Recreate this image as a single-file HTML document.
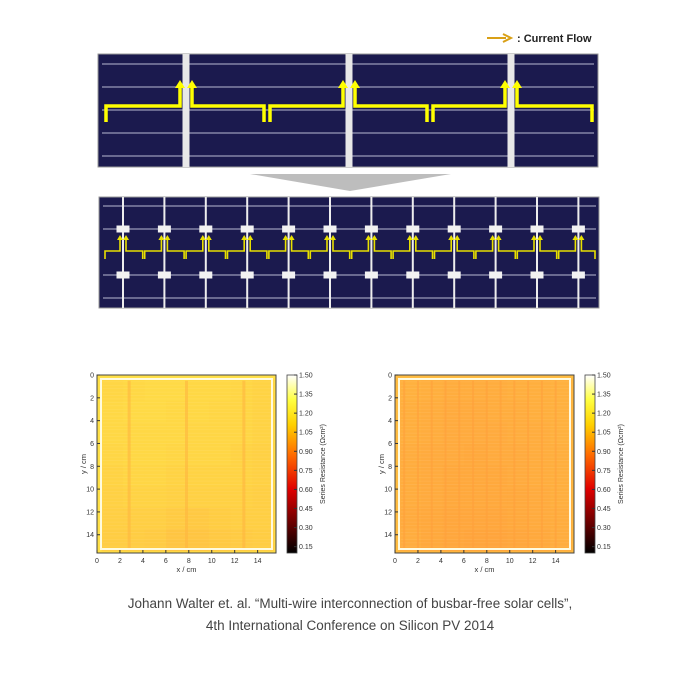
<!DOCTYPE html>
<html><head><meta charset="utf-8"><style>
body{margin:0;background:#fff;}
svg{display:block;font-family:"Liberation Sans",sans-serif;}
</style></head><body>
<svg id="root" width="700" height="680" viewBox="0 0 700 680" xmlns="http://www.w3.org/2000/svg">
<defs>
<linearGradient id="hot" x1="0" y1="1" x2="0" y2="0">
<stop offset="0" stop-color="#000"/><stop offset="0.36" stop-color="#e00000"/><stop offset="0.55" stop-color="#ff6a00"/><stop offset="0.72" stop-color="#ffd000"/><stop offset="0.86" stop-color="#ffff40"/><stop offset="1" stop-color="#fff"/>
</linearGradient>
</defs>
<g>
<line x1="487" y1="38" x2="506" y2="38" stroke="#d9a016" stroke-width="2"/>
<path d="M503,34 L511,38 L503,42" fill="none" stroke="#d9a016" stroke-width="2"/>
<text x="517" y="42" font-size="11" font-weight="bold" fill="#222">: Current Flow</text>
</g>
<g id="topdiag"></g>
<polygon points="250,174 451,174 350,191" fill="#bdbdbd"/>
<g id="middiag"></g>
<g id="maps"></g>
<text x="350" y="608" font-size="13.5" fill="#444" text-anchor="middle">Johann Walter et. al. “Multi-wire interconnection of busbar-free solar cells”,</text>
<text x="350" y="630" font-size="13.5" fill="#444" text-anchor="middle">4th International Conference on Silicon PV 2014</text>
</svg>
<script>
const xTicks=[0,2,4,6,8,10,12,14];
const yTicks=[0,2,4,6,8,10,12,14];
const cbarTicks=[1.50,1.35,1.20,1.05,0.90,0.75,0.60,0.45,0.30,0.15];
const leftValues=[
[1.15,1.16,1.17,1.17,1.16,1.16,1.15,1.14],
[1.16,1.17,1.17,1.16,1.16,1.15,1.15,1.14],
[1.16,1.16,1.16,1.16,1.15,1.15,1.15,1.14],
[1.15,1.16,1.16,1.15,1.15,1.15,1.14,1.13],
[1.14,1.15,1.15,1.14,1.14,1.14,1.14,1.13],
[1.13,1.14,1.14,1.13,1.13,1.13,1.13,1.12],
[1.12,1.12,1.12,1.10,1.09,1.11,1.12,1.12],
[1.11,1.11,1.10,1.07,1.07,1.09,1.10,1.11]];
const leftBusbars=[2.8,7.8,12.8];
const rightValues=[
[0.98,0.97,0.96,0.96,0.96,0.97,0.97,0.98],
[0.97,0.96,0.95,0.95,0.96,0.96,0.97,0.98],
[0.97,0.96,0.95,0.95,0.95,0.96,0.96,0.98],
[0.96,0.95,0.95,0.94,0.95,0.95,0.96,0.97],
[0.96,0.95,0.94,0.94,0.94,0.95,0.96,0.97],
[0.96,0.95,0.94,0.94,0.94,0.94,0.95,0.97],
[0.95,0.94,0.93,0.93,0.93,0.94,0.95,0.96],
[0.96,0.94,0.93,0.92,0.92,0.93,0.94,0.96]];
const rightFingers=[0.8,2.0,3.2,4.4,5.6,6.8,8.0,9.2,10.4,11.6,12.8,14.0];

const NS="http://www.w3.org/2000/svg";
function mk(p,t,a){const e=document.createElementNS(NS,t);for(const k in a)e.setAttribute(k,a[k]);p.appendChild(e);return e;}
// ---------- top diagram ----------
const topG=document.getElementById('topdiag');
mk(topG,'rect',{x:98,y:54,width:500,height:113,fill:'#1b1a4e',stroke:'#999','stroke-width':1});
[64,87,110,133,156].forEach(y=>mk(topG,'line',{x1:102,x2:594,y1:y,y2:y,stroke:'#9a9ab8','stroke-width':1.2}));
const bus=[186,349,511];
bus.forEach(x=>{const b=mk(topG,'rect',{x:x-3.5,y:54,width:7,height:113,fill:'#e8e8e8'});

});
const Y='#ffff00';
function tpath(d){mk(topG,'path',{d:d,fill:'none',stroke:Y,'stroke-width':3.5});}
const edges=[105,186,267,349,430,511,593];
for(let i=0;i<6;i++){
 const a=edges[i],b=edges[i+1];
 if(i%2==0){
  const x0=i==0?106:a+3, x1=b-6;
  tpath(`M${x0},122 L${x0},106 L${x1},106 L${x1},85`);
  mk(topG,'path',{d:`M${x1-5},88 L${x1},80 L${x1+5},88z`,fill:Y});
 } else {
  const x0=a+6, x1=i==5?592:b-3;
  tpath(`M${x0},85 L${x0},106 L${x1},106 L${x1},122`);
  mk(topG,'path',{d:`M${x0-5},88 L${x0},80 L${x0+5},88z`,fill:Y});
 }
}
// ---------- middle diagram ----------
const midG=document.getElementById('middiag');
mk(midG,'rect',{x:99,y:197,width:500,height:111,fill:'#1b1a4e',stroke:'#999','stroke-width':1});
[206,229,275,298].forEach(y=>mk(midG,'line',{x1:103,x2:596,y1:y,y2:y,stroke:'#9a9ab8','stroke-width':1.2}));
const wires=[];for(let i=0;i<12;i++)wires.push(123+i*41.4);
wires.forEach(x=>{const w=mk(midG,'line',{x1:x,x2:x,y1:197,y2:308,stroke:'#eee','stroke-width':2});
 
 
 [229,275].forEach(y=>mk(midG,'rect',{x:x-6.5,y:y-3.5,width:13,height:7,fill:'#f2f2f2'}));});
function yp(d){mk(midG,'path',{d:d,fill:'none',stroke:'#e8e000','stroke-width':1.6});}
const segs=[104];for(let i=0;i<11;i++)segs.push(wires[i]+20.7);segs.push(596);
for(let i=0;i<12;i++){
 const w=wires[i],l=segs[i],rr=segs[i+1];
 yp(`M${l+1},259 L${l+1},251 L${w-3},251 L${w-3},238`);
 yp(`M${w+3},238 L${w+3},251 L${rr-1},251 L${rr-1},259`);
 mk(midG,'path',{d:`M${w-6},240 L${w-3},235 L${w},240z`,fill:'#e8e000'});
 mk(midG,'path',{d:`M${w},240 L${w+3},235 L${w+6},240z`,fill:'#e8e000'});
}
// ---------- heatmaps ----------
const VMIN=0.10,VMAX=1.50,DOM=15.6;
function hot(v){let t=(v-VMIN)/(VMAX-VMIN);t=Math.max(0,Math.min(1,t));
 const c=x=>Math.round(255*Math.max(0,Math.min(1,x)));
 const r=c(t/0.4), g=c(1.17*t-0.04), b=t>0.45?c(0.12+0.2*t+Math.max(0,(t-0.85)/0.15)):0;
 return `rgb(${r},${g},${b})`;}
const mapsG=document.getElementById('maps');
function heat(X0,Y0,vals,lines,lineW,lineVal,name){
 const W=179,H=178;
 const g=mk(mapsG,'g',{});
 
 
 const sx=v=>X0+v/DOM*W, sy=v=>Y0+v/DOM*H;
 mk(g,'rect',{x:X0,y:Y0,width:W,height:H,fill:hot(vals[0][0]+0.05)});
 const n=vals.length,m=vals[0].length;
 const cw=(15.4-0.4)/m,ch=(15.4-0.4)/n;
 vals.forEach((row,i)=>row.forEach((v,j)=>{const c=mk(g,'rect',{x:sx(0.4+j*cw),y:sy(0.4+i*ch),width:W*cw/DOM+0.6,height:H*ch/DOM+0.6,fill:hot(v)});
  
  }));
 for(let y=0.6;y<15.2;y+=0.3)mk(g,'line',{x1:sx(0.5),x2:sx(15.2),y1:sy(y),y2:sy(y),stroke:'#fff','stroke-opacity':0.08,'stroke-width':0.8});
 lines.forEach(x=>{const l=mk(g,'rect',{x:sx(x)-lineW/2,y:sy(0.5),width:lineW,height:sy(15.3)-sy(0.5),fill:hot(lineVal),opacity:0.6});
  
  });
 mk(g,'rect',{x:sx(0.35),y:sy(0.35),width:sx(15.25)-sx(0.35),height:sy(15.25)-sy(0.35),fill:'none',stroke:'#fffbe0','stroke-width':2});
 mk(g,'rect',{x:X0,y:Y0,width:W,height:H,fill:'none',stroke:'#444','stroke-width':1});
 xTicks.forEach(t=>{mk(g,'line',{x1:sx(t),x2:sx(t),y1:Y0+H,y2:Y0+H-3,stroke:'#333'});
  const tx=mk(g,'text',{x:sx(t),y:Y0+H+10,'font-size':7,'text-anchor':'middle',fill:'#333'});tx.textContent=t;
  
  });
 yTicks.forEach(t=>{mk(g,'line',{x1:X0,x2:X0+3,y1:sy(t),y2:sy(t),stroke:'#333'});
  const tx=mk(g,'text',{x:X0-3,y:sy(t)+2.5,'font-size':7,'text-anchor':'end',fill:'#333'});tx.textContent=t;
  
  });
 const xl=mk(g,'text',{x:X0+W/2,y:Y0+H+19,'font-size':7.5,'text-anchor':'middle',fill:'#333'});xl.textContent='x / cm';
 
 
 const yl=mk(g,'text',{x:0,y:0,'font-size':7.5,'text-anchor':'middle',fill:'#333',transform:`translate(${X0-11},${Y0+H/2}) rotate(-90)`});yl.textContent='y / cm';
 
 
 const CX=X0+190;
 const cb=mk(g,'rect',{x:CX,y:Y0,width:10,height:H,fill:'url(#hot)',stroke:'#444','stroke-width':0.8});
 
 
 const cy=v=>Y0+H-(v-VMIN)/(VMAX-VMIN)*H;
 cbarTicks.forEach(v=>{mk(g,'line',{x1:CX+10,x2:CX+7,y1:cy(v),y2:cy(v),stroke:'#333'});
  const tx=mk(g,'text',{x:CX+12,y:cy(v)+2.5,'font-size':7,fill:'#333'});tx.textContent=v.toFixed(2);
  
  });
 const ct=mk(g,'text',{x:0,y:0,'font-size':7,'text-anchor':'middle',fill:'#333',transform:`translate(${CX+38},${Y0+H/2}) rotate(-90)`});ct.textContent='Series Resistance (Ωcm²)';
 
 
}
heat(97,375,leftValues,leftBusbars,3,1.0,'heatmap-busbar');
heat(395,375,rightValues,rightFingers,2,0.9,'heatmap-multiwire');
</script>
</body></html>
